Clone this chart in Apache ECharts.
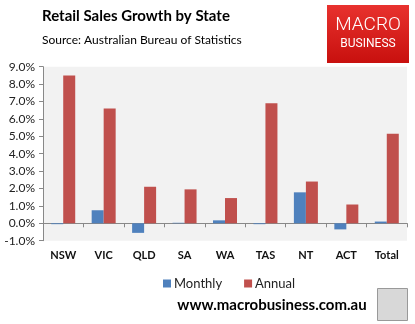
<!DOCTYPE html>
<html><head><meta charset="utf-8">
<script src="https://cdn.jsdelivr.net/npm/echarts@6/dist/echarts.min.js"></script>
<style>html,body{margin:0;padding:0;background:#fff}#c{width:415px;height:324px}</style>
</head><body><div id="c"></div>
<script>
const categories = ['NSW','VIC','QLD','SA','WA','TAS','NT','ACT','Total'];
const monthly = [-0.05, 0.75, -0.55, 0.03, 0.17, -0.05, 1.78, -0.35, 0.1];
const annual = [8.5, 6.6, 2.1, 1.95, 1.45, 6.9, 2.4, 1.08, 5.15];
const yTicks = {min: -1, max: 9, interval: 1};

const chart = echarts.init(document.getElementById('c'), null, {renderer: 'canvas'});
const F = 'Lato, "Open Sans", sans-serif';
chart.setOption({
  animation: false,
  backgroundColor: '#fff',
  grid: {left: 43, right: 8, top: 66.7, bottom: 83.3, show: true, backgroundColor: '#F2F2F2', borderWidth: 0},
  xAxis: [
    {type: 'category', data: categories, position: 'bottom',
     axisLine: {show: false, onZero: false}, axisTick: {show: false},
     axisLabel: {margin: 9, color: '#111', fontFamily: F, fontWeight: 'bold', fontSize: 11}},
    {type: 'category', data: categories, position: 'bottom',
     axisLine: {show: true, onZero: true, lineStyle: {color: '#888', width: 1}},
     axisTick: {show: true, length: 4, inside: false, lineStyle: {color: '#888'}},
     axisLabel: {show: false}}
  ],
  yAxis: {type: 'value', min: yTicks.min, max: yTicks.max, interval: yTicks.interval,
    axisLine: {show: true, lineStyle: {color: '#888'}},
    axisTick: {show: true, length: 4, lineStyle: {color: '#888'}},
    splitLine: {show: false},
    axisLabel: {margin: 8, color: '#222', fontFamily: F, fontSize: 12,
      formatter: v => v.toFixed(1) + '%'}},
  legend: {left: 158, top: 272, itemWidth: 8, itemHeight: 8, itemGap: 22,
    icon: 'rect', textStyle: {fontFamily: F, fontSize: 13, color: '#222', padding: [0,0,0,-2]},
    data: ['Monthly', 'Annual']},
  series: [
    {name: 'Monthly', type: 'bar', data: monthly, barWidth: 12, barGap: '0%',
     itemStyle: {color: '#4F81BD'}},
    {name: 'Annual', type: 'bar', data: annual, barWidth: 12, barGap: '0%',
     itemStyle: {color: '#C0504D'}}
  ],
  graphic: [
    {type: 'text', left: 42, top: 9, style: {text: 'Retail Sales Growth by State', fontFamily: F, fontWeight: 'bold', fontSize: 15, fill: '#000'}},
    {type: 'text', left: 42, top: 34, style: {text: 'Source: Australian Bureau of Statistics', fontFamily: F, fontSize: 12, fill: '#000'}},
    {type: 'rect', shape: {x: 327, y: 5, width: 82, height: 58},
     style: {fill: new echarts.graphic.LinearGradient(0, 0, 0, 1, [{offset: 0, color: '#E8322E'}, {offset: 1, color: '#C8100E'}])}},
    {type: 'text', x: 368, y: 25, style: {text: 'MACRO', fontFamily: '"Roboto", sans-serif', fontWeight: 300, fontSize: 19, fill: '#fff', align: 'center', verticalAlign: 'middle'}},
    {type: 'text', x: 368, y: 44, style: {text: 'BUSINESS', fontFamily: '"Roboto", sans-serif', fontSize: 12, fill: '#fff', align: 'center', verticalAlign: 'middle'}},
    {type: 'text', x: 272, y: 305, style: {text: 'www.macrobusiness.com.au', fontFamily: F, fontWeight: 'bold', fontSize: 15, fill: '#000', align: 'center', verticalAlign: 'middle'}},
    {type: 'rect', shape: {x: 377.5, y: 288.5, width: 30, height: 32}, style: {fill: '#d8d8d8', stroke: '#999', lineWidth: 1}}
  ]
});
</script></body></html>
